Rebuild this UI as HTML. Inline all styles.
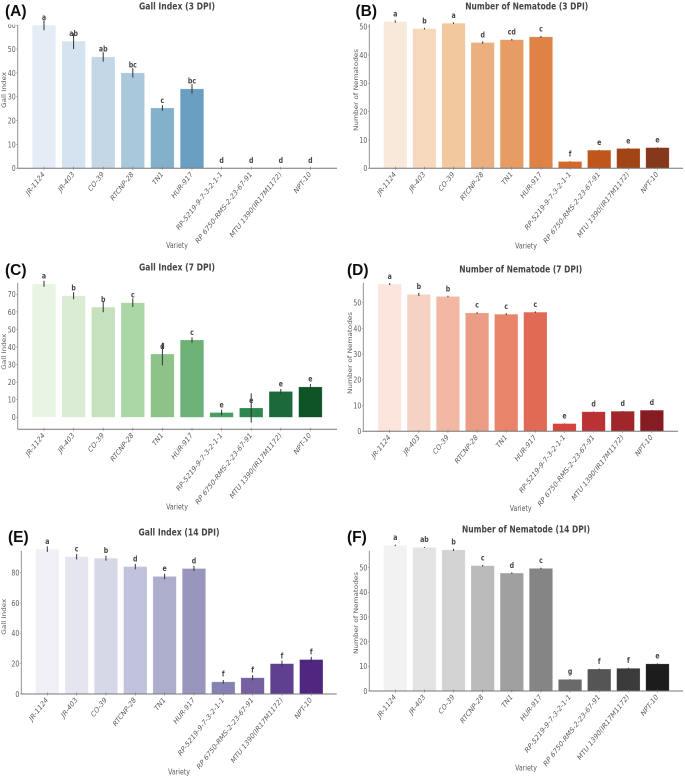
<!DOCTYPE html>
<html lang="en">
<head>
<meta charset="utf-8">
<title>Gall Index and Number of Nematode charts</title>
<style>
html,body{margin:0;padding:0;background:#fff;width:685px;height:778px;overflow:hidden}
svg{display:block;font-family:"DejaVu Sans","Liberation Sans",sans-serif}
.tick{font-size:7.8px;fill:#5c5c5c}
.ytick{font-size:8px;fill:#5c5c5c}
.axis-title{font-size:8px;fill:#5c5c5c}
.title{font-size:9.6px;font-weight:bold;fill:#444}
.sig{font-size:8px;font-weight:bold;fill:#444}
.panel{font-family:"Liberation Sans",sans-serif;font-size:15.5px;font-weight:bold;fill:#111}
</style>
</head>
<body>
<svg id="figure" xmlns="http://www.w3.org/2000/svg" width="685" height="778" viewBox="0 0 685 778">
<defs><filter id="soft" x="-5%" y="-5%" width="110%" height="110%"><feGaussianBlur stdDeviation="0.32"/></filter></defs>
<rect width="685" height="778" fill="#fff"/>
<g id="root" filter="url(#soft)"></g>
</svg>
<script>
const categories = ["JR-1124","JR-403","CO-39","RTCNP-28","TN1","HUR-917","RP-5219-9-7-3-2-1-1","RP 6750-RMS-2-23-67-91","MTU 1390(IR17M1172)","NPT-10"];

const gall3Values = [60,53.3,46.7,40,25.3,33.3,0,0,0,0];
const gall3Errors = [2.1,3.3,2,2,1.2,2,0,0,0,0];
const gall3Letters = ["a","ab","ab","bc","c","bc","d","d","d","d"];
const gall3Ticks = [0,10,20,30,40,50,60];

const nem3Values = [51.8,49.3,51.2,44.4,45.4,46.4,2.4,6.4,7,7.3];
const nem3Errors = [0.4,0.3,0.3,0.4,0.3,0.3,0.1,0.1,0.1,0.1];
const nem3Letters = ["a","b","a","d","cd","c","f","e","e","e"];
const nem3Ticks = [0,10,20,30,40,50];

const gall7Values = [76,69.2,62.7,65.2,36,44,2.7,5.3,14.7,17.3];
const gall7Errors = [1.7,2,2.9,2.4,6.5,1.5,1.6,8.3,1.4,1.7];
const gall7Letters = ["a","b","b","c","d","c","e","e","e","e"];
const gall7Ticks = [0,10,20,30,40,50,60,70];

const nem7Values = [57.2,53.2,52.4,46,45.5,46.3,3,7.6,7.8,8.2];
const nem7Errors = [0.4,0.6,0.3,0.3,0.4,0.3,0.1,0.1,0.1,0.1];
const nem7Letters = ["a","b","b","c","c","c","e","d","d","d"];
const nem7Ticks = [0,10,20,30,40,50];

const gall14Values = [95.5,90.5,89.5,84,77.5,82.7,8,10.7,20,22.7];
const gall14Errors = [1.8,1.8,1.6,1.8,1.8,1.7,1.2,1.7,2,1.8];
const gall14Letters = ["a","c","b","d","e","d","f","f","f","f"];
const gall14Ticks = [0,20,40,60,80];

const nem14Values = [59,58.2,57.2,50.8,47.8,49.7,4.7,8.9,9.2,11];
const nem14Errors = [0.3,0.2,0.4,0.3,0.3,0.3,0.1,0.2,0.2,0.2];
const nem14Letters = ["a","ab","b","c","d","c","g","f","f","e"];
const nem14Ticks = [0,10,20,30,40,50];

const bluesPalette = ["#e4edf6","#d5e2ef","#c3d7e7","#a9c8db","#83b1cb","#6a9fc4","#5a94bd","#4a86b2","#3a78a8","#2b6a9c"];
const orangesPalette = ["#f9e9da","#f6d9bc","#f2c89f","#ecb080","#e69c63","#de8344","#d4682a","#c0561d","#a14516","#86371a"];
const greensPalette = ["#e8f4e4","#daecd4","#c5e2bd","#abd6a5","#8dc389","#6cb175","#449f5f","#2f8650","#1d6b3a","#0d5428"];
const redsPalette = ["#fbe5dd","#f6d2c3","#f2b8a4","#eb9c84","#e88469","#e06a53","#d3443a","#bb3135","#a1252c","#841a22"];
const purplesPalette = ["#f0f0f6","#e5e5ef","#d6d7e7","#c1c2db","#adadcc","#9896bd","#8581b3","#7460a2","#5f4190","#502880"];
const greysPalette = ["#f2f2f2","#e4e4e4","#d3d3d3","#bbbbbb","#a0a0a0","#858585","#6a6a6a","#545454","#3a3a3a","#1e1e1e"];

const SQUEEZE = 0.78;

const panels = [
 {id:"a",tag:"(A)",tagX:5,tagY:16,title:"Gall Index (3 DPI)",titleX:177,titleY:9.5,titleW:76,yTitle:"Gall Index",yTitleX:6,yTitleY:90,yTitleW:36,xTitleX:177,xTitleY:248,
  values:gall3Values,errors:gall3Errors,letters:gall3Letters,ticks:gall3Ticks,palette:bluesPalette,
  left:17.7,right:337,top:25,axisY:168.3,zeroY:168.3,unit:2.385,first:44,step:29.6,barW:23.5,cover:24.6},
 {id:"b",tag:"(B)",tagX:355.5,tagY:16,title:"Number of Nematode (3 DPI)",titleX:526.7,titleY:9.5,titleW:123,yTitle:"Number of Nematodes",yTitleX:358,yTitleY:90,yTitleW:82,xTitleX:526,xTitleY:248.5,
  values:nem3Values,errors:nem3Errors,letters:nem3Letters,ticks:nem3Ticks,palette:orangesPalette,
  left:369.3,right:683,top:24,axisY:168.3,zeroY:168.3,unit:2.833,first:395.3,step:29.13,barW:23.4},
 {id:"c",tag:"(C)",tagX:5,tagY:275,title:"Gall Index (7 DPI)",titleX:177,titleY:270.5,titleW:76,yTitle:"Gall Index",yTitleX:6,yTitleY:351.7,yTitleW:36,xTitleX:177,xTitleY:509.5,
  values:gall7Values,errors:gall7Errors,letters:gall7Letters,ticks:gall7Ticks,palette:greensPalette,
  left:17.7,right:337,top:282.7,axisY:429.3,zeroY:417.3,unit:1.757,first:44,step:29.6,barW:23.5},
 {id:"d",tag:"(D)",tagX:347,tagY:275,title:"Number of Nematode (7 DPI)",titleX:520.7,titleY:272.5,titleW:123,yTitle:"Number of Nematodes",yTitleX:352,yTitleY:353,yTitleW:82,xTitleX:520.7,xTitleY:511,
  values:nem7Values,errors:nem7Errors,letters:nem7Letters,ticks:nem7Ticks,palette:redsPalette,
  left:363.3,right:678,top:282.7,axisY:431.3,zeroY:431.3,unit:2.573,first:389.7,step:29.13,barW:23.4},
 {id:"e",tag:"(E)",tagX:8,tagY:542,title:"Gall Index (14 DPI)",titleX:179,titleY:535.5,titleW:81,yTitle:"Gall Index",yTitleX:6,yTitleY:616.7,yTitleW:36,xTitleX:179,xTitleY:774.5,
  values:gall14Values,errors:gall14Errors,letters:gall14Letters,ticks:gall14Ticks,palette:purplesPalette,
  left:21.3,right:336.7,top:550.7,axisY:694,zeroY:694,unit:1.517,first:47.3,step:29.33,barW:23.4},
 {id:"f",tag:"(F)",tagX:347,tagY:542,title:"Number of Nematode (14 DPI)",titleX:526,titleY:532.5,titleW:128,yTitle:"Number of Nematodes",yTitleX:358,yTitleY:613,yTitleW:82,xTitleX:526,xTitleY:770.5,
  values:nem14Values,errors:nem14Errors,letters:nem14Letters,ticks:nem14Ticks,palette:greysPalette,
  left:369.3,right:683,top:550.7,axisY:691,zeroY:691,unit:2.467,first:395.3,step:29.13,barW:23.4}
];

const NS = "http://www.w3.org/2000/svg";
const root = document.getElementById("root");

function mk(parent, tag, attrs, text) {
  const el = document.createElementNS(NS, tag);
  for (const k in attrs) el.setAttribute(k, attrs[k]);
  if (text !== undefined) el.textContent = text;
  parent.appendChild(el);
  return el;
}

// The source figure is stretched vertically, so its text is narrower than normal.
function squeezed(x, y, angle) {
  return "translate(" + x + " " + y + ") scale(" + SQUEEZE + " 1)" + (angle ? " rotate(" + angle + ")" : "");
}

panels.forEach(function (p) {
  const yScale = function (v) { return p.zeroY - v * p.unit; };
  const xScale = function (i) { return p.first + i * p.step; };

  const g = mk(root, "g", {});
  
  

  // y ticks and labels
  p.ticks.forEach(function (t) {
    const mark = mk(g, "line", {x1: p.left - 1.5, x2: p.left, y1: yScale(t), y2: yScale(t), stroke: "#888", "stroke-width": 0.6});
    
    
    const lab = mk(g, "text", {class: "ytick", transform: squeezed(p.left - 2, yScale(t) + 2.9), "text-anchor": "end"}, String(t));
    
    
  });

  // clipped top of the y tick labels in the source image
  if (p.cover) {
    const cover = mk(g, "rect", {x: 0, y: 0, width: p.left - 0.5, height: p.cover, fill: "#fff"});
    
    
  }

  // bars
  p.values.forEach(function (v, i) {
    const top = yScale(v);
    const bar = mk(g, "rect", {x: xScale(i) - p.barW / 2, y: top, width: p.barW, height: Math.max(p.zeroY - top, 0), fill: p.palette[i], stroke: "#fff", "stroke-opacity": 0.35, "stroke-width": 0.6});
    
    
  });

  // error bars
  p.values.forEach(function (v, i) {
    const err = p.errors[i];
    if (err <= 0) return;
    const line = mk(g, "line", {x1: xScale(i), x2: xScale(i), y1: yScale(v + err), y2: yScale(v - err), stroke: "#333", "stroke-width": 1});
    
    
  });

  // significance letters
  p.letters.forEach(function (s, i) {
    const lab = mk(g, "text", {class: "sig", transform: squeezed(xScale(i), yScale(p.values[i]) - 5.2), "text-anchor": "middle"}, s);
    
    
  });

  // spines
  const ySpine = mk(g, "line", {x1: p.left, x2: p.left, y1: p.top, y2: p.axisY, stroke: "#888", "stroke-width": 0.9});
  
  
  const xSpine = mk(g, "line", {x1: p.left, x2: p.right, y1: p.axisY, y2: p.axisY, stroke: "#777", "stroke-width": 1});
  
  

  // x ticks and labels
  categories.forEach(function (c, i) {
    const mark = mk(g, "line", {x1: xScale(i), x2: xScale(i), y1: p.axisY - 1.5, y2: p.axisY + 1.5, stroke: "#777", "stroke-width": 0.6});
    
    
    const lab = mk(g, "text", {class: "tick", transform: squeezed(xScale(i) + 1, p.axisY + 6.5, -45), "text-anchor": "end"}, c);
    
    
  });

  // titles
  const title = mk(g, "text", {class: "title", x: p.titleX, y: p.titleY, "text-anchor": "middle", textLength: p.titleW, lengthAdjust: "spacingAndGlyphs"}, p.title);
  
  

  const yT = mk(g, "text", {class: "axis-title", transform: squeezed(p.yTitleX, p.yTitleY, -90), "text-anchor": "middle", textLength: p.yTitleW, lengthAdjust: "spacingAndGlyphs"}, p.yTitle);
  
  

  const xT = mk(g, "text", {class: "axis-title", transform: squeezed(p.xTitleX, p.xTitleY), "text-anchor": "middle"}, "Variety");
  
  

  const tag = mk(g, "text", {class: "panel", x: p.tagX, y: p.tagY}, p.tag);
  
  
});
</script>
</body>
</html>
